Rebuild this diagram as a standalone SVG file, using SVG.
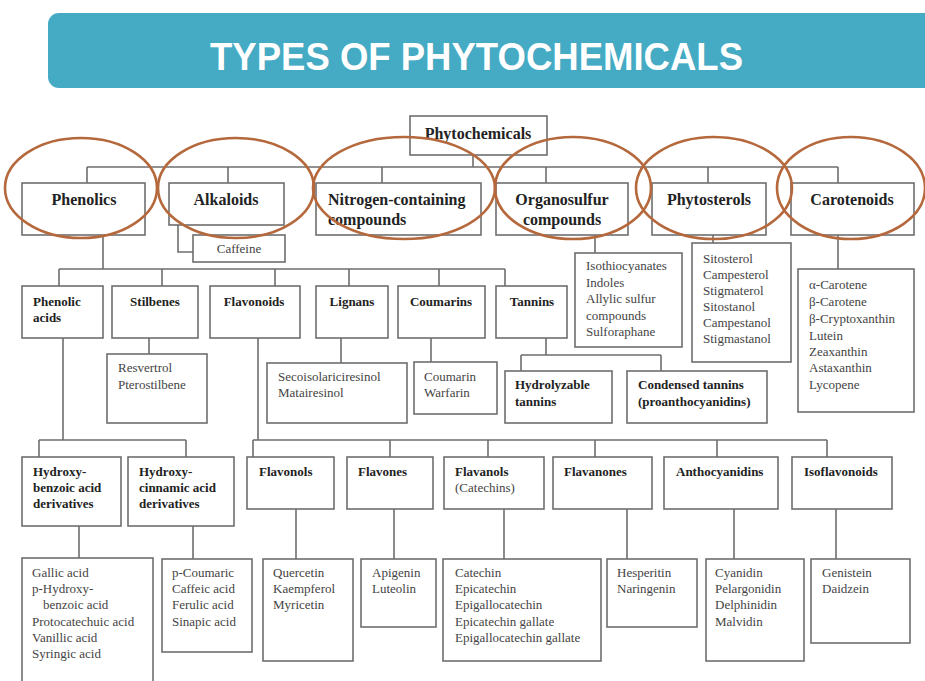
<svg xmlns="http://www.w3.org/2000/svg" width="925" height="681" viewBox="0 0 925 681">
<style>
.box{fill:#fff;stroke:#6e6e6e;stroke-width:1.6}
.ln{fill:none;stroke:#6e6e6e;stroke-width:1.6}
.ov{fill:none;stroke:#b5683c;stroke-width:2.6}
.h1{font-family:"Liberation Serif",serif;font-weight:bold;font-size:16px;fill:#222}
.h2{font-family:"Liberation Serif",serif;font-weight:bold;font-size:13px;fill:#222}
.tx{font-family:"Liberation Serif",serif;font-size:13px;fill:#444}
.c{text-anchor:middle}
</style>
<rect x="0" y="0" width="925" height="681" fill="#fff"/>
<g id="header">
<rect x="48" y="13" width="900" height="75" rx="11" fill="#45aac3"/>
<text x="210" y="70" font-family="Liberation Sans, Arial, sans-serif" font-weight="bold" font-size="39" fill="#fff" textLength="533" lengthAdjust="spacingAndGlyphs">TYPES OF PHYTOCHEMICALS</text>
</g>
<g id="connectors">
<path class="ln" d="M473,155V167M87,167H838M87,167V183M228,167V183M382,167V183M546,167V183M708,167V183M838,167V183"/>
<path class="ln" d="M178,225V252H193M595,235V253M713,235V243M838,235V269"/>
<path class="ln" d="M103,235V269M59,269H505M59,269V286M162,269V286M275,269V286M349,269V286M439,269V286M505,269V286"/>
<path class="ln" d="M149,338V354M341,338V363M431,338V362M546,338V355M521,355H661M521,355V371M661,355V371"/>
<path class="ln" d="M63,338V440M39,440H186M39,440V457M186,440V457M79,526V558M193,526V559"/>
<path class="ln" d="M258,338V440M253,440H827M253,440V457M390,440V457M488,440V457M595,440V457M717,440V457M827,440V457"/>
<path class="ln" d="M296,509V559M394,509V559M504,509V559M627,509V559M734,509V559M836,509V559"/>
</g>
<g id="phytochemicals"><rect class="box" x="410" y="116" width="137" height="39"/><text class="h1 c" x="478" y="139">Phytochemicals</text></g>
<g id="phenolics"><rect class="box" x="22" y="183" width="123" height="52"/><text class="h1 c" x="84" y="205">Phenolics</text></g>
<g id="alkaloids"><rect class="box" x="169" y="183" width="115" height="42"/><text class="h1 c" x="226" y="205">Alkaloids</text></g>
<g id="caffeine"><rect class="box" x="193" y="235" width="92" height="27"/><text class="tx c" x="239" y="253">Caffeine</text></g>
<g id="nitrogen"><rect class="box" x="316" y="183" width="165" height="52"/><text class="h1" x="328" y="205">Nitrogen-containing</text><text class="h1" x="328" y="225">compounds</text></g>
<g id="organosulfur"><rect class="box" x="496" y="183" width="132" height="52"/><text class="h1 c" x="562" y="205">Organosulfur</text><text class="h1 c" x="562" y="225">compounds</text></g>
<g id="phytosterols"><rect class="box" x="652" y="183" width="114" height="52"/><text class="h1 c" x="709" y="205">Phytosterols</text></g>
<g id="carotenoids"><rect class="box" x="791" y="183" width="123" height="52"/><text class="h1 c" x="852" y="205">Carotenoids</text></g>
<g id="organosulfur-list"><rect class="box" x="575" y="253" width="107" height="94"/><text class="tx" x="586"><tspan x="586" y="270">Isothiocyanates</tspan><tspan x="586" y="287">Indoles</tspan><tspan x="586" y="303">Allylic sulfur</tspan><tspan x="586" y="320">compounds</tspan><tspan x="586" y="336">Sulforaphane</tspan></text></g>
<g id="phytosterols-list"><rect class="box" x="692" y="243" width="99" height="119"/><text class="tx"><tspan x="703" y="263">Sitosterol</tspan><tspan x="703" y="279">Campesterol</tspan><tspan x="703" y="295">Stigmaterol</tspan><tspan x="703" y="311">Sitostanol</tspan><tspan x="703" y="327">Campestanol</tspan><tspan x="703" y="343">Stigmastanol</tspan></text></g>
<g id="carotenoids-list"><rect class="box" x="798" y="269" width="116" height="143"/><text class="tx"><tspan x="809" y="289">α-Carotene</tspan><tspan x="809" y="306">β-Carotene</tspan><tspan x="809" y="323">β-Cryptoxanthin</tspan><tspan x="809" y="340">Lutein</tspan><tspan x="809" y="356">Zeaxanthin</tspan><tspan x="809" y="372">Astaxanthin</tspan><tspan x="809" y="389">Lycopene</tspan></text></g>
<g id="phenolic-acids"><rect class="box" x="22" y="286" width="81" height="52"/><text class="h2"><tspan x="33" y="306">Phenolic</tspan><tspan x="33" y="322">acids</tspan></text></g>
<g id="stilbenes"><rect class="box" x="112" y="286" width="86" height="52"/><text class="h2 c" x="155" y="306">Stilbenes</text></g>
<g id="flavonoids"><rect class="box" x="210" y="286" width="90" height="52"/><text class="h2 c" x="254" y="306">Flavonoids</text></g>
<g id="lignans"><rect class="box" x="316" y="286" width="72" height="52"/><text class="h2 c" x="352" y="306">Lignans</text></g>
<g id="coumarins"><rect class="box" x="398" y="286" width="87" height="52"/><text class="h2 c" x="441" y="306">Coumarins</text></g>
<g id="tannins"><rect class="box" x="496" y="286" width="71" height="52"/><text class="h2 c" x="532" y="306">Tannins</text></g>
<g id="stilbenes-list"><rect class="box" x="107" y="354" width="100" height="69"/><text class="tx"><tspan x="118" y="372">Resvertrol</tspan><tspan x="118" y="389">Pterostilbene</tspan></text></g>
<g id="lignans-list"><rect class="box" x="267" y="363" width="140" height="60"/><text class="tx"><tspan x="278" y="381">Secoisolariciresinol</tspan><tspan x="278" y="397">Matairesinol</tspan></text></g>
<g id="coumarins-list"><rect class="box" x="414" y="362" width="83" height="52"/><text class="tx"><tspan x="424" y="381">Coumarin</tspan><tspan x="424" y="397">Warfarin</tspan></text></g>
<g id="hydrolyzable"><rect class="box" x="505" y="371" width="107" height="52"/><text class="h2"><tspan x="515" y="389">Hydrolyzable</tspan><tspan x="515" y="406">tannins</tspan></text></g>
<g id="condensed"><rect class="box" x="627" y="371" width="140" height="52"/><text class="h2"><tspan x="638" y="389">Condensed tannins</tspan><tspan x="638" y="406">(proanthocyanidins)</tspan></text></g>
<g id="hydroxybenzoic"><rect class="box" x="22" y="457" width="99" height="69"/><text class="h2"><tspan x="33" y="476">Hydroxy-</tspan><tspan x="33" y="492">benzoic acid</tspan><tspan x="33" y="508">derivatives</tspan></text></g>
<g id="hydroxycinnamic"><rect class="box" x="128" y="457" width="106" height="69"/><text class="h2"><tspan x="139" y="476">Hydroxy-</tspan><tspan x="139" y="492">cinnamic acid</tspan><tspan x="139" y="508">derivatives</tspan></text></g>
<g id="flavonols"><rect class="box" x="247" y="457" width="87" height="52"/><text class="h2" x="259" y="476">Flavonols</text></g>
<g id="flavones"><rect class="box" x="347" y="457" width="86" height="52"/><text class="h2" x="358" y="476">Flavones</text></g>
<g id="flavanols"><rect class="box" x="444" y="457" width="100" height="52"/><text class="h2" x="455" y="476">Flavanols</text><text class="tx" x="455" y="492">(Catechins)</text></g>
<g id="flavanones"><rect class="box" x="553" y="457" width="99" height="52"/><text class="h2" x="564" y="476">Flavanones</text></g>
<g id="anthocyanidins"><rect class="box" x="664" y="457" width="114" height="52"/><text class="h2" x="676" y="476">Anthocyanidins</text></g>
<g id="isoflavonoids"><rect class="box" x="792" y="457" width="100" height="52"/><text class="h2" x="804" y="476">Isoflavonoids</text></g>
<g id="hydroxybenzoic-list"><rect class="box" x="22" y="558" width="131" height="140"/><text class="tx"><tspan x="32" y="577">Gallic acid</tspan><tspan x="32" y="593">p-Hydroxy-</tspan><tspan x="43" y="609">benzoic acid</tspan><tspan x="32" y="626">Protocatechuic acid</tspan><tspan x="32" y="642">Vanillic acid</tspan><tspan x="32" y="658">Syringic acid</tspan></text></g>
<g id="hydroxycinnamic-list"><rect class="box" x="162" y="559" width="90" height="93"/><text class="tx"><tspan x="172" y="577">p-Coumaric</tspan><tspan x="172" y="593">Caffeic acid</tspan><tspan x="172" y="609">Ferulic acid</tspan><tspan x="172" y="626">Sinapic acid</tspan></text></g>
<g id="flavonols-list"><rect class="box" x="263" y="559" width="90" height="102"/><text class="tx"><tspan x="273" y="577">Quercetin</tspan><tspan x="273" y="593">Kaempferol</tspan><tspan x="273" y="609">Myricetin</tspan></text></g>
<g id="flavones-list"><rect class="box" x="361" y="559" width="75" height="68"/><text class="tx"><tspan x="372" y="577">Apigenin</tspan><tspan x="372" y="593">Luteolin</tspan></text></g>
<g id="flavanols-list"><rect class="box" x="443" y="559" width="158" height="102"/><text class="tx"><tspan x="455" y="577">Catechin</tspan><tspan x="455" y="593">Epicatechin</tspan><tspan x="455" y="609">Epigallocatechin</tspan><tspan x="455" y="626">Epicatechin gallate</tspan><tspan x="455" y="642">Epigallocatechin gallate</tspan></text></g>
<g id="flavanones-list"><rect class="box" x="607" y="559" width="90" height="68"/><text class="tx"><tspan x="617" y="577">Hesperitin</tspan><tspan x="617" y="593">Naringenin</tspan></text></g>
<g id="anthocyanidins-list"><rect class="box" x="706" y="559" width="98" height="102"/><text class="tx"><tspan x="715" y="577">Cyanidin</tspan><tspan x="715" y="593">Pelargonidin</tspan><tspan x="715" y="609">Delphinidin</tspan><tspan x="715" y="626">Malvidin</tspan></text></g>
<g id="isoflavonoids-list"><rect class="box" x="811" y="559" width="99" height="84"/><text class="tx"><tspan x="822" y="577">Genistein</tspan><tspan x="822" y="593">Daidzein</tspan></text></g>
<g id="highlights">
<ellipse class="ov" cx="81" cy="188" rx="76" ry="50"/>
<ellipse class="ov" cx="236" cy="188" rx="78" ry="50"/>
<ellipse class="ov" cx="404" cy="188" rx="91" ry="51"/>
<ellipse class="ov" cx="573" cy="188" rx="78" ry="51"/>
<ellipse class="ov" cx="714" cy="188" rx="78" ry="51"/>
<ellipse class="ov" cx="851" cy="188" rx="74" ry="51"/>
</g>
</svg>
